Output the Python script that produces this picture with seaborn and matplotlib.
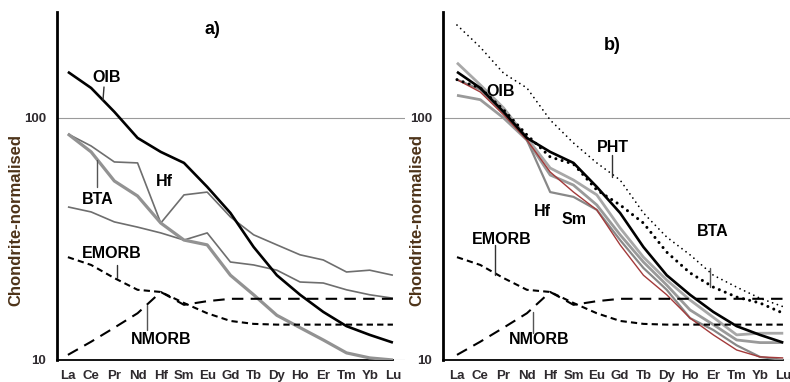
import matplotlib
matplotlib.use("Agg")
import matplotlib.pyplot as plt
from matplotlib.lines import Line2D
from matplotlib.ticker import NullLocator
import seaborn as sns
import pandas as pd

elements = ['La', 'Ce', 'Pr', 'Nd', 'Hf', 'Sm', 'Eu', 'Gd', 'Tb', 'Dy', 'Ho', 'Er', 'Tm', 'Yb', 'Lu']

oib = [155, 133, 106, 82.7, 72.4, 65.2, 51.9, 40.5, 29.3, 22.4, 18.6, 15.8, 13.8, 12.7, 11.8]
emorb = [26.6, 24.7, 21.8, 19.5, 19.1, 17.2, 15.6, 14.5, 14.1, 14.0, 14.0, 14.0, 14.0, 14.0, 14.0]
nmorb = [10.5, 11.9, 13.6, 15.6, 19.1, 16.9, 17.5, 17.9, 17.9, 17.9, 17.9, 17.9, 17.9, 17.9, 17.9]

# panel a: BTA samples
bta_a_hf = [85.9, 76.6, 65.8, 65.2, 36.8, 48.1, 49.4, 39.0, 32.9, 29.9, 27.2, 25.9, 23.1, 23.5, 22.4]
bta_a_main = [85.9, 72.4, 54.9, 47.6, 36.8, 31.3, 29.9, 22.4, 18.6, 15.3, 13.6, 12.1, 10.7, 10.2, 10.0]
bta_a_low = [42.9, 40.9, 37.2, 35.4, 33.5, 31.3, 33.5, 25.4, 24.7, 23.5, 21.0, 20.8, 19.5, 18.6, 18.0]

# panel b
pht = [242, 196, 153, 133, 98.1, 78.8, 65.2, 55.4, 40.5, 32.2, 27.2, 22.4, 20.0, 18.0, 16.6]
bta_mean = [144, 133, 108, 85.1, 69.0, 64.5, 50.4, 43.7, 36.8, 27.9, 22.9, 20.0, 18.2, 17.2, 15.6]
bta_b1 = [169, 137, 110, 82.7, 62.1, 55.4, 48.1, 35.1, 26.6, 21.4, 17.7, 15.0, 12.7, 12.9, 12.9]
bta_b2 = [144, 131, 105, 81.1, 49.4, 47.2, 41.7, 31.3, 24.0, 19.5, 14.9, 13.3, 11.5, 10.3, 10.0]
bta_b3 = [124, 119, 100, 81.1, 58.1, 52.8, 43.7, 32.9, 25.4, 20.4, 16.1, 14.0, 12.1, 11.8, 11.8]
bta_b_red = [144, 128, 103, 81.1, 59.8, 49.4, 41.7, 29.9, 22.4, 18.6, 14.9, 12.7, 11.0, 10.3, 10.2]

sns.set_style("white")
plt.rcParams['font.family'] = ['Liberation Sans', 'DejaVu Sans']

W, H = 790, 382
fig = plt.figure(figsize=(W / 100, H / 100), dpi=100)

def fx(x):
    return x / W

def fy(y):
    return 1 - y / H

ax_a = fig.add_axes([fx(57), fy(360), (405 - 57) / W, 348 / H])
ax_b = fig.add_axes([fx(443), fy(360), (790 - 443) / W, 348 / H])

TICK_COLOR = '#2e2a2e'
LABEL_COLOR = '#4d3319'


def draw(ax, values, color, lw, dashes=None, zorder=3, dotted=False):
    df = pd.DataFrame({'element': elements, 'value': values})
    sns.lineplot(data=df, x='element', y='value', sort=False, ax=ax,
                 color=color, linewidth=lw, zorder=zorder, legend=False)
    line = ax.lines[-1]
    if dashes is not None:
        line.set_dashes(dashes)
    line.set_solid_capstyle('butt')
    if dotted:
        line.set_dash_capstyle('round')
    return line


def style(ax, xleft, xright):
    ax.set_yscale('log')
    ax.set_ylim(10, 274)
    ax.set_xlim(xleft, xright)
    ax.set_yticks([10, 100])
    ax.set_yticklabels(['10', '100'])
    ax.yaxis.set_minor_locator(NullLocator())
    ax.set_xticks(range(len(elements)))
    ax.set_xticklabels(elements)
    ax.set_xlabel('')
    ax.set_ylabel('')
    for s in ['top', 'right']:
        ax.spines[s].set_visible(False)
    ax.spines['left'].set_linewidth(2.0)
    ax.spines['left'].set_color('black')
    ax.spines['bottom'].set_linewidth(1.3)
    ax.spines['bottom'].set_color('black')
    ax.spines['bottom'].set_bounds(xleft, len(elements) - 1)
    ax.tick_params(axis='x', direction='out', length=3, width=1.2, color='black',
                   pad=4, labelsize=9.5, labelcolor=TICK_COLOR)
    ax.tick_params(axis='y', direction='out', length=4, width=1.2, color='black',
                   pad=4, labelsize=9.5, labelcolor=TICK_COLOR)
    for lab in ax.get_xticklabels() + ax.get_yticklabels():
        lab.set_fontweight('bold')
    ax.grid(axis='y', color='#9a9a9a', linewidth=0.8)
    ax.grid(axis='x', visible=False)
    ax.set_axisbelow(True)
    ax.patch.set_alpha(0)


# ---- panel a ----
draw(ax_a, bta_a_low, '#6e6e6e', 1.2)
draw(ax_a, bta_a_hf, '#6e6e6e', 1.2)
draw(ax_a, bta_a_main, '#929292', 2.3)
draw(ax_a, oib, 'black', 1.9, zorder=4)
draw(ax_a, emorb, 'black', 1.5, dashes=(3, 2))
draw(ax_a, nmorb, 'black', 1.5, dashes=(5.5, 3.5))
style(ax_a, -0.47, 14.52)

# ---- panel b ----
draw(ax_b, bta_b3, '#9a9a9a', 2.0)
draw(ax_b, bta_b1, '#a8a8a8', 2.0)
draw(ax_b, bta_b2, '#888888', 1.6)
draw(ax_b, bta_b_red, '#a33a3a', 1.0)
draw(ax_b, pht, 'black', 1.3, dashes=(0.01, 2.8), dotted=True)
draw(ax_b, bta_mean, 'black', 2.2, dashes=(0.01, 2.1), dotted=True)
draw(ax_b, oib, 'black', 1.9, zorder=4)
draw(ax_b, emorb, 'black', 1.5, dashes=(3, 2))
draw(ax_b, nmorb, 'black', 1.5, dashes=(5.5, 3.5))
style(ax_b, -0.6, 14.29)

# ---- labels ----
def label(x, y, s, size=11.5):
    fig.text(fx(x), fy(y), s, ha='center', va='center', fontsize=size,
             fontweight='bold', color='black')

def leader(x0, y0, x1, y1, color='#555555'):
    fig.add_artist(Line2D([fx(x0), fx(x1)], [fy(y0), fy(y1)], color=color,
                          linewidth=1.0, transform=fig.transFigure))

label(212, 30, 'a)', 13)
label(107, 77, 'OIB')
label(98, 199, 'BTA')
label(164, 182, 'Hf')
label(112, 254, 'EMORB')
label(161, 340, 'NMORB')
leader(104, 87, 103, 100, '#333333')
leader(97, 160, 97, 187)
leader(117, 265, 117, 278, '#333333')
leader(147, 305, 147, 330)

label(612, 45, 'b)', 13)
label(501, 92, 'OIB')
label(613, 147, 'PHT')
label(542, 212, 'Hf')
label(574, 219, 'Sm')
label(713, 232, 'BTA')
label(502, 240, 'EMORB')
label(539, 340, 'NMORB')
leader(612, 155, 612, 177, '#333333')
leader(710, 268, 710, 287)
leader(495, 245, 495, 275, '#333333')
leader(533, 312, 533, 333)

for x in (16, 417):
    fig.text(fx(x), fy(220), 'Chondrite-normalised', rotation=90, ha='center',
             va='center', fontsize=12, fontweight='bold', color=LABEL_COLOR)

fig.savefig('out.png', dpi=100)
